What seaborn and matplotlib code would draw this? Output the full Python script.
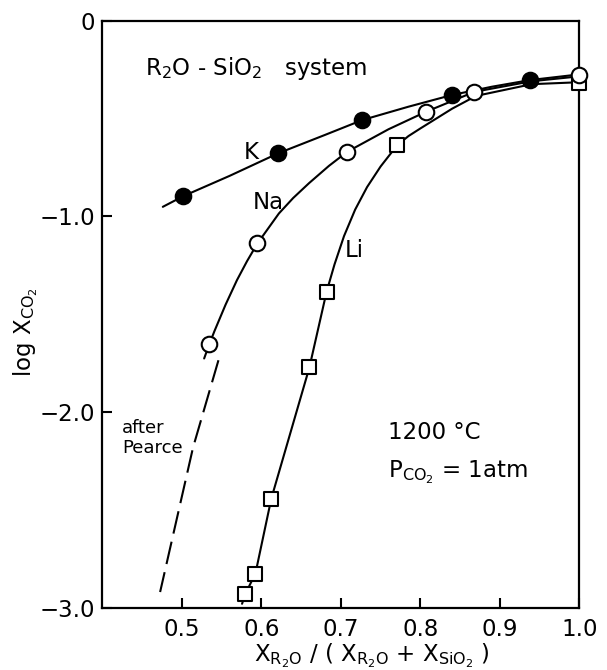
import matplotlib
matplotlib.use("Agg")
import matplotlib.pyplot as plt
import seaborn as sns
import pandas as pd

# ---- data ----
k_x = [0.502, 0.621, 0.727, 0.840, 0.938]
k_y = [-0.896, -0.678, -0.508, -0.380, -0.304]
na_x = [0.5345, 0.595, 0.708, 0.807, 0.868, 1.0]
na_y = [-1.652, -1.138, -0.670, -0.466, -0.364, -0.278]
li_x = [0.580, 0.5925, 0.6125, 0.6604, 0.682, 0.771, 1.0]
li_y = [-2.925, -2.823, -2.440, -1.771, -1.385, -0.636, -0.321]

# smooth drawn curves
k_curve_x = [0.476, 0.502, 0.56, 0.621, 0.68, 0.727, 0.785, 0.840, 0.89, 0.938, 1.0]
k_curve_y = [-0.951, -0.896, -0.793, -0.678, -0.584, -0.508, -0.440, -0.380, -0.338, -0.304, -0.275]
na_curve_x = [0.528, 0.5345, 0.541, 0.555, 0.5693, 0.582, 0.595, 0.622, 0.64, 0.66, 0.685,
              0.708, 0.76, 0.807, 0.868, 0.94, 1.0]
na_curve_y = [-1.725, -1.652, -1.585, -1.45, -1.325, -1.228, -1.138, -0.985, -0.906, -0.83, -0.742,
              -0.670, -0.555, -0.466, -0.364, -0.31, -0.285]
li_curve_x = [0.5757, 0.580, 0.5925, 0.6125, 0.6604, 0.682, 0.692, 0.704, 0.718, 0.733, 0.750,
              0.771, 0.785, 0.800, 0.84, 0.87, 0.94, 1.0]
li_curve_y = [-2.977, -2.925, -2.823, -2.440, -1.771, -1.385, -1.245, -1.10, -0.965, -0.85, -0.745,
              -0.636, -0.59, -0.551, -0.45, -0.385, -0.325, -0.315]
pearce_x = [0.546, 0.514, 0.4726]
pearce_y = [-1.734, -2.18, -2.917]

x_ticks = [0.5, 0.6, 0.7, 0.8, 0.9, 1.0]
x_ticklabels = ["0.5", "0.6", "0.7", "0.8", "0.9", "1.0"]
y_ticks = [0, -1, -2, -3]
y_ticklabels = ["0", "\u22121.0", "\u22122.0", "\u22123.0"]

sns.set_theme(style="ticks")
plt.rcParams["font.family"] = ["DejaVu Sans"]
plt.rcParams["mathtext.fontset"] = "dejavusans"
plt.rcParams["text.color"] = "black"
plt.rcParams["axes.labelcolor"] = "black"

fig = plt.figure(figsize=(6.07, 6.70), dpi=100)
ax = fig.add_axes([0.1687, 0.0921, 0.7857, 0.8773])

lw = 1.5
for cx, cy in [(k_curve_x, k_curve_y), (na_curve_x, na_curve_y), (li_curve_x, li_curve_y)]:
    sns.lineplot(data=pd.DataFrame({"x": cx, "y": cy}), x="x", y="y", sort=False,
                 estimator=None, color="black", lw=lw, ax=ax, zorder=2)
sns.lineplot(data=pd.DataFrame({"x": pearce_x, "y": pearce_y}), x="x", y="y", sort=False,
             estimator=None, color="black", lw=lw, ax=ax, zorder=2,
             linestyle=(0, (11, 4)))

sns.scatterplot(data=pd.DataFrame({"x": li_x, "y": li_y}), x="x", y="y", marker="s", s=95,
                color="white", edgecolor="black", linewidth=1.5, ax=ax, zorder=5, clip_on=False)
sns.scatterplot(data=pd.DataFrame({"x": na_x, "y": na_y}), x="x", y="y", marker="o", s=125,
                color="white", edgecolor="black", linewidth=1.5, ax=ax, zorder=6, clip_on=False)
sns.scatterplot(data=pd.DataFrame({"x": k_x, "y": k_y}), x="x", y="y", marker="o", s=125,
                color="black", edgecolor="black", linewidth=1.5, ax=ax, zorder=6, clip_on=False)

ax.set_xlim(0.4, 1.0)
ax.set_ylim(-3.0, 0.0)
ax.set_xticks(x_ticks)
ax.set_xticklabels(x_ticklabels)
ax.set_yticks(y_ticks)
ax.set_yticklabels(y_ticklabels)
ax.tick_params(axis="both", direction="in", length=7.5, width=1.5, labelsize=16.5,
               colors="black")
ax.tick_params(axis="x", pad=7)
ax.tick_params(axis="y", pad=5.5)
for s in ax.spines.values():
    s.set_visible(True)
    s.set_linewidth(1.6)
    s.set_color("black")

ax.set_xlabel(r"X$_{\mathregular{R_2O}}$ / ( X$_{\mathregular{R_2O}}$ + X$_{\mathregular{SiO_2}}$ )",
              fontsize=16.5, va="center")
ax.xaxis.set_label_coords(0.565, -0.08)
ax.set_ylabel(r"log X$_{\mathregular{CO_2}}$", fontsize=16.5, va="center")
ax.yaxis.set_label_coords(-0.16, 0.47)

fs = 16.5
ax.text(0.4537, -0.243, r"R$_2$O - SiO$_2$   system", fontsize=fs, ha="left", va="center")
ax.text(0.5874, -0.672, "K", fontsize=fs, ha="center", va="center")
ax.text(0.609, -0.927, "Na", fontsize=fs, ha="center", va="center")
ax.text(0.717, -1.172, "Li", fontsize=fs, ha="center", va="center")
ax.text(0.4248, -2.081, "after", fontsize=13, ha="left", va="center")
ax.text(0.4248, -2.183, "Pearce", fontsize=13, ha="left", va="center")
ax.text(0.7589, -2.102, "1200 \u00b0C", fontsize=fs, ha="left", va="center")
ax.text(0.7589, -2.306, r"P$_{\mathregular{CO_2}}$ = 1atm", fontsize=fs, ha="left", va="center")

fig.savefig("out.png", dpi=100)
